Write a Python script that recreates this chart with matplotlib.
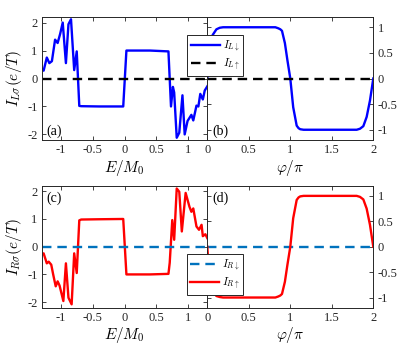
import numpy as np
import matplotlib
matplotlib.use("Agg")
import matplotlib.pyplot as plt

plt.rcParams['font.family'] = 'serif'
plt.rcParams['font.serif'] = ['Liberation Serif', 'DejaVu Serif']
plt.rcParams['mathtext.fontset'] = 'cm'
plt.rcParams['axes.unicode_minus'] = False

# (a) I_L(down) vs E/M0
E_a = [-1.3, -1.27, -1.22, -1.18, -1.14, -1.09, -1.05, -1.01, -0.97, -0.92, -0.88,
       -0.84, -0.79, -0.75, -0.71, -0.68, -0.4, -0.02, 0.03, 0.4, 0.69, 0.73, 0.76,
       0.78, 0.82, 0.86, 0.91, 0.945, 0.99, 1.05, 1.08, 1.13, 1.16, 1.19, 1.23, 1.26, 1.3]
I_a = [0.36, 0.28, 0.75, 0.55, 0.62, 1.39, 1.27, 1.6, 2.0, 0.55, 1.94,
       2.12, 0.3, 0.97, -0.98, -0.99, -1.0, -1.0, 1.0, 1.0, 0.97, -1.0, -0.3,
       -0.5, -2.12, -1.94, -0.6, -2.0, -1.52, -1.3, -1.5, -0.97, -1.0, -0.55, -0.75, -0.43, -0.28]

# (c) I_R(up) vs E/M0
E_c = [-1.3, -1.27, -1.22, -1.19, -1.15, -1.12, -1.08, -1.05, -1.02, -0.96, -0.92,
       -0.88, -0.83, -0.79, -0.75, -0.71, -0.68, -0.4, -0.02, 0.03, 0.4, 0.69, 0.71,
       0.75, 0.78, 0.82, 0.86, 0.9, 0.96, 1.02, 1.05, 1.08, 1.13, 1.17, 1.21, 1.23, 1.27, 1.3]
I_c = [-0.3, -0.24, -0.6, -0.54, -0.65, -1.0, -1.43, -1.25, -1.4, -1.96, -0.6,
       -1.84, -2.08, -0.24, -0.95, 0.95, 0.98, 0.99, 1.0, -1.0, -1.0, -0.98, -0.58,
       0.96, 0.25, 2.1, 1.98, 0.55, 1.94, 1.44, 1.26, 1.38, 0.73, 0.61, 0.79, 0.38, 0.45, 0.31]

# (b) I_L(down) vs phi/pi
phi_b = [0.0, 0.03, 0.065, 0.11, 0.15, 0.19, 0.5, 0.82, 0.855, 0.88, 0.9, 0.935, 0.965,
         1.0, 1.035, 1.077, 1.1, 1.12, 1.16, 1.5, 1.8, 1.84, 1.88, 1.92, 1.96, 2.0]
I_b = [0.0, 0.55, 0.85, 0.96, 0.99, 1.0, 1.0, 1.0, 0.98, 0.96, 0.93, 0.69, 0.36,
       0.0, -0.56, -0.92, -0.97, -0.99, -1.0, -1.0, -1.0, -0.98, -0.93, -0.75, -0.43, 0.0]

# (d) I_R(up) vs phi/pi
phi_d = [0.0, 0.025, 0.065, 0.11, 0.15, 0.19, 0.5, 0.82, 0.855, 0.88, 0.9, 0.935, 0.965,
         1.0, 1.035, 1.077, 1.1, 1.12, 1.16, 1.5, 1.8, 1.84, 1.88, 1.92, 1.96, 2.0]
I_d = [0.0, -0.6, -0.88, -0.97, -0.99, -1.0, -1.0, -1.0, -0.98, -0.96, -0.93, -0.69, -0.36,
       0.0, 0.56, 0.92, 0.97, 0.99, 1.0, 1.0, 1.0, 0.98, 0.93, 0.75, 0.43, 0.0]

E_ticks = [-1, -0.5, 0, 0.5, 1]
E_labels = ['-1', '-0.5', '0', '0.5', '1']
phi_ticks = [0, 0.5, 1, 1.5, 2]
phi_labels = ['0', '0.5', '1', '1.5', '2']
left_yticks = [-2, -1, 0, 1, 2]
right_yticks = [-1, -0.5, 0, 0.5, 1]
right_ylabels = ['-1', '-0.5', '0', '0.5', '1']

fig = plt.figure(figsize=(4.15, 3.5), dpi=100)
axa = fig.add_axes([0.1005, 0.60, 0.399, 0.3514])
axb = fig.add_axes([0.4995, 0.60, 0.400, 0.3514])
axc = fig.add_axes([0.1005, 0.1209, 0.399, 0.3485])
axd = fig.add_axes([0.4995, 0.1209, 0.400, 0.3485])

lw = 1.7
blue = '#0000FF'
red = '#FF0000'
mblue = '#0072BD'

axa.plot(E_a, I_a, color=blue, lw=lw)
axa.axhline(0, color='k', ls='--', lw=lw, dashes=(4, 2.5))
axc.plot(E_c, I_c, color=red, lw=lw)
axc.axhline(0, color=mblue, ls='--', lw=lw, dashes=(4, 2.5))

lb1, = axb.plot(phi_b, I_b, color=blue, lw=lw, label=r'$I_{L\downarrow}$')
lb2 = axb.axhline(0, color='k', ls='--', lw=lw, dashes=(4, 2.5), label=r'$I_{L\uparrow}$')
ld2 = axd.axhline(0, color=mblue, ls='--', lw=lw, dashes=(4, 2.5), label=r'$I_{R\downarrow}$')
ld1, = axd.plot(phi_d, I_d, color=red, lw=lw, label=r'$I_{R\uparrow}$')

for ax in (axa, axc):
    ax.set_xlim(-1.3, 1.3)
    ax.set_ylim(-2.2, 2.2)
    ax.set_xticks(E_ticks)
    ax.set_xticklabels(E_labels)
    ax.set_yticks(left_yticks)
    ax.set_xlabel(r'$E/M_0$', fontsize=11, labelpad=1)

for ax in (axb, axd):
    ax.set_xlim(0, 2)
    ax.set_ylim(-1.2, 1.2)
    ax.set_xticks(phi_ticks)
    ax.set_xticklabels(phi_labels)
    ax.set_yticks(right_yticks)
    ax.set_yticklabels(right_ylabels)
    ax.yaxis.tick_right()
    ax.set_xlabel(r'$\varphi/\pi$', fontsize=11, labelpad=1)

for ax in (axa, axb, axc, axd):
    ax.tick_params(direction='in', top=True, bottom=True, left=True, right=True,
                   labelsize=9, length=3, width=0.6, colors='#262626', pad=3)
    for s in ax.spines.values():
        s.set_color('#262626')
        s.set_linewidth(0.7)

axb.tick_params(labelleft=False, labelright=True)
axd.tick_params(labelleft=False, labelright=True)

axa.set_ylabel(r'$I_{L\sigma}(e/T)$', fontsize=11, labelpad=2)
axc.set_ylabel(r'$I_{R\sigma}(e/T)$', fontsize=11, labelpad=2)

axa.text(0.03, 0.04, '(a)', transform=axa.transAxes, fontsize=10)
axb.text(0.03, 0.04, '(b)', transform=axb.transAxes, fontsize=10)
axc.text(0.03, 0.87, '(c)', transform=axc.transAxes, fontsize=10)
axd.text(0.03, 0.87, '(d)', transform=axd.transAxes, fontsize=10)

leg_kw = dict(fontsize=8, frameon=True, fancybox=False, framealpha=1,
              edgecolor='#262626', handlelength=2.6, handletextpad=0.3,
              borderpad=0.3, labelspacing=0.2, borderaxespad=0)
lg1 = axb.legend(handles=[lb1, lb2], loc='upper left', bbox_to_anchor=(-0.12, 0.85), **leg_kw)
lg2 = axd.legend(handles=[ld2, ld1], loc='upper left', bbox_to_anchor=(-0.125, 0.44), **leg_kw)
for lg in (lg1, lg2):
    lg.get_frame().set_linewidth(0.7)

fig.savefig('out.png', dpi=100)
